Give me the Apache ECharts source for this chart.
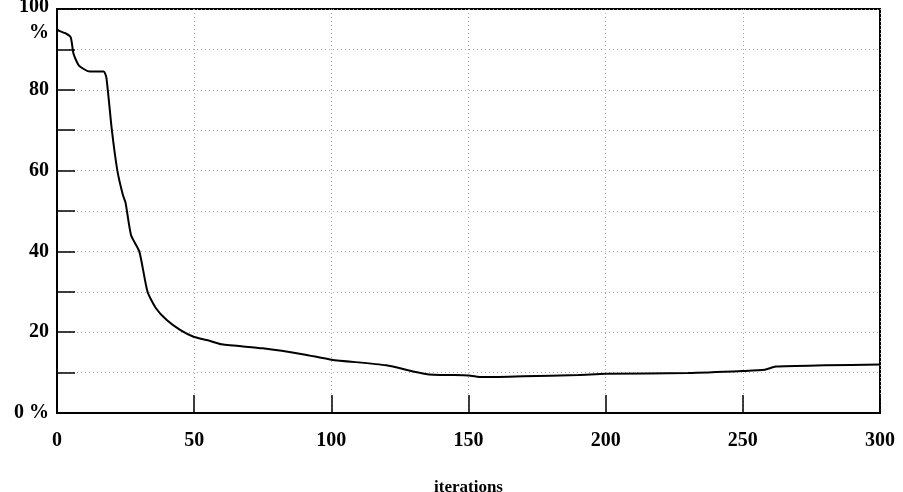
<!DOCTYPE html>
<html>
<head>
<meta charset="utf-8">
<script src="https://cdn.jsdelivr.net/npm/echarts@6/dist/echarts.min.js"></script>
<style>
html, body { margin: 0; padding: 0; background: #fff; }
#chart { width: 903px; height: 492px; }
</style>
</head>
<body>
<div id="chart"></div>
<script>
// iteration number and percentage
var iterations = [0, 1, 3, 5, 6, 8, 12, 17, 18, 20, 22, 24, 25, 27, 30, 33, 36, 40, 45, 50, 55, 60, 75, 90, 100, 120, 135, 150, 155, 170, 190, 200, 230, 250, 258, 262, 280, 300]
var percent = [95, 94.5, 94, 93, 89, 86, 84.5, 84.5, 83, 70, 60, 54, 52, 44, 40, 30, 26, 23, 20.5, 18.8, 18, 17, 16, 14.5, 13.2, 11.8, 9.6, 9.3, 8.9, 9.1, 9.4, 9.7, 9.9, 10.4, 10.7, 11.5, 11.8, 12]
var xTicks = [0, 50, 100, 150, 200, 250, 300]

var chart = echarts.init(document.getElementById('chart'))
var font = 'Liberation Serif'

chart.setOption({
    animation: false,
    grid: { left: 57, right: 23, top: 9, bottom: 79, containLabel: false, outerBoundsMode: 'none' },
    xAxis: {
        type: 'value',
        min: 0, max: 300, interval: 50,
        name: 'iterations',
        nameLocation: 'middle',
        nameGap: 66,
        nameTextStyle: { fontFamily: font, fontWeight: 'bold', fontSize: 17, color: '#000' },
        axisLine: { lineStyle: { color: '#000', width: 2 } },
        axisTick: { inside: true, length: 18, lineStyle: { color: '#000', width: 1.5 } },
        axisLabel: { margin: 18, fontFamily: font, fontWeight: 'bold', fontSize: 20, color: '#000',
            formatter: function (v) { return xTicks.indexOf(v) >= 0 ? String(v) : '' } },
        splitLine: { show: true, lineStyle: { color: '#aaa', type: [1, 3], width: 1 } }
    },
    yAxis: {
        type: 'value',
        min: 0, max: 100, interval: 10,
        axisLine: { lineStyle: { color: '#000', width: 2 } },
        axisTick: { inside: true, length: 18, lineStyle: { color: '#000', width: 1.5 } },
        axisLabel: { margin: 8, fontFamily: font, fontWeight: 'bold', fontSize: 20, color: '#000', lineHeight: 26,
            rich: { top: { fontFamily: font, fontWeight: 'bold', fontSize: 20, color: '#000', lineHeight: 26, padding: [22, 0, 0, 0], align: 'right' } },
            formatter: function (v) {
                if (v === 0) return '0 %'
                if (v === 100) return '{top|100\n%}'
                return v % 20 === 0 ? String(v) : ''
            } },
        splitLine: { show: true, lineStyle: { color: '#aaa', type: [1, 3], width: 1 } }
    },
    series: [{
        type: 'line',
        data: iterations.map(function (x, i) { return [x, percent[i]] }),
        showSymbol: false,
        smooth: 0.2,
        lineStyle: { color: '#000', width: 2 }
    }],
    graphic: [{
        type: 'rect', shape: { x: 57, y: 9, width: 823, height: 404 },
        style: { fill: 'none', stroke: '#000', lineWidth: 2 }, silent: true
    }]
})
</script>
</body>
</html>
